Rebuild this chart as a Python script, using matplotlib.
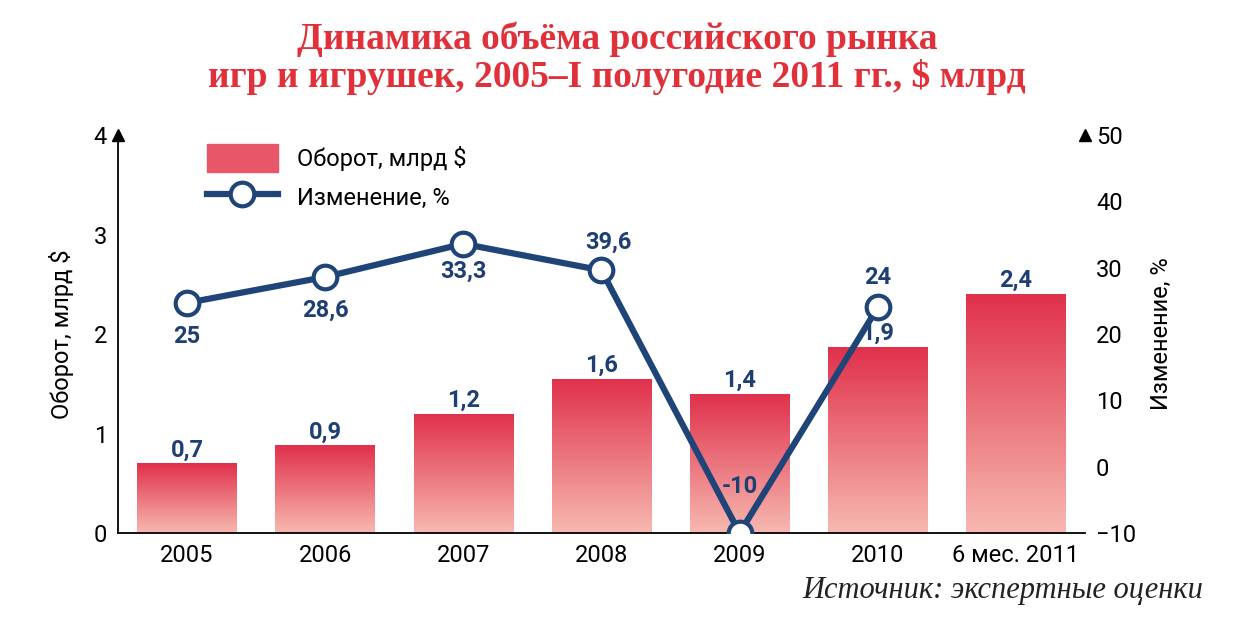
import matplotlib
matplotlib.use("Agg")
import matplotlib.pyplot as plt
import numpy as np
from matplotlib.colors import LinearSegmentedColormap
from matplotlib.lines import Line2D
from matplotlib.patches import Rectangle

categories = ["2005", "2006", "2007", "2008", "2009", "2010", "6 мес. 2011"]
turnover = [0.7, 0.88, 1.2, 1.55, 1.4, 1.87, 2.4]
turnover_labels = ["0,7", "0,9", "1,2", "1,6", "1,4", "1,9", "2,4"]
change = [24.7, 28.6, 33.6, 29.6, -10, 24]
change_labels = ["25", "28,6", "33,3", "39,6", "-10", "24"]

plt.rcParams["font.family"] = "Roboto"
fig = plt.figure(figsize=(12.34, 6.18), dpi=100)
ax = fig.add_axes([0.0956, 0.1375, 0.7836, 0.644])
ax2 = ax.twinx()
x = np.arange(len(categories))
cmap = LinearSegmentedColormap.from_list("g", ["#f7b9b1", "#e0304b"])
grad = np.linspace(0, 1, 256).reshape(-1, 1)
w = 0.72
for xi, v in zip(x, turnover):
    bars = ax.bar(xi, v, w, color="none")
    im = ax.imshow(grad, extent=[xi - w/2, xi + w/2, 0, v], origin="lower",
                   cmap=cmap, aspect="auto", zorder=1)
    im.set_clip_path(bars[0])
ax.set_xlim(-0.5, len(categories) - 0.5)
ax.set_ylim(0, 4)
ax.set_yticks([0, 1, 2, 3, 4])
ax.set_xticks(x)
ax.set_xticklabels(categories)
ax.tick_params(labelsize=17, length=0, pad=8)
ax.set_ylabel("Оборот, млрд $", fontsize=17, labelpad=14)
for s in ["top", "right"]:
    ax.spines[s].set_visible(False)
    ax2.spines[s].set_visible(False)
ax2.spines["left"].set_visible(False)
ax2.spines["bottom"].set_visible(False)
for sp in [ax.spines["left"], ax.spines["bottom"], ax2.spines["right"]]:
    sp.set_linewidth(1.3)
ax.plot(0, 1, "^k", transform=ax.transAxes, clip_on=False, markersize=8)
ax.plot(1, 1, "^k", transform=ax.transAxes, clip_on=False, markersize=8)

for xi, v, lab in zip(x, turnover, turnover_labels):
    ax.text(xi, v + 0.02, lab, ha="center", va="bottom", fontsize=17,
            fontweight="bold", color="#1f3f73", zorder=5)

ax2.set_ylim(-10, 50)
ax2.set_yticks(range(-10, 51, 10))
ax2.tick_params(labelsize=17, length=0, pad=8)
ax2.set_ylabel("Изменение, %", fontsize=17, labelpad=10)
xl = x[:len(change)]
ax2.plot(xl, change, "-o", color="#1f4578", lw=4.5, markersize=17,
         markerfacecolor="white", markeredgewidth=3, zorder=4)
offsets = [-5, -5, -4.2, 4.2, 7, 4.5]
for xi, v, lab, o in zip(xl, change, change_labels, offsets):
    ax2.text(xi + (0.05 if xi == 3 else 0), v + o, lab, ha="center", va="center",
             fontsize=17, fontweight="bold", color="#1f3f73")

h1 = Rectangle((0, 0), 1, 1, color="#e8566a")
h2 = Line2D([], [], color="#1f4578", lw=4.5, marker="o", markersize=17,
            markerfacecolor="white", markeredgewidth=3)
ax.legend([h1, h2], ["Оборот, млрд $", "Изменение, %"], loc="upper left",
          bbox_to_anchor=(0.07, 1.03), frameon=False, fontsize=17,
          handlelength=3, handleheight=1.4)

fig.text(0.5, 0.965, "Динамика объёма российского рынка\nигр и игрушек, 2005–I полугодие 2011 гг., $ млрд",
         ha="center", va="top", fontsize=27, fontweight="bold", color="#e0313a",
         family="Liberation Serif", linespacing=1.05)
fig.text(0.975, 0.045, "Источник: экспертные оценки", ha="right", va="center",
         fontsize=22, style="italic", family="Liberation Serif", color="#222222")
fig.savefig("out.png", dpi=100)
